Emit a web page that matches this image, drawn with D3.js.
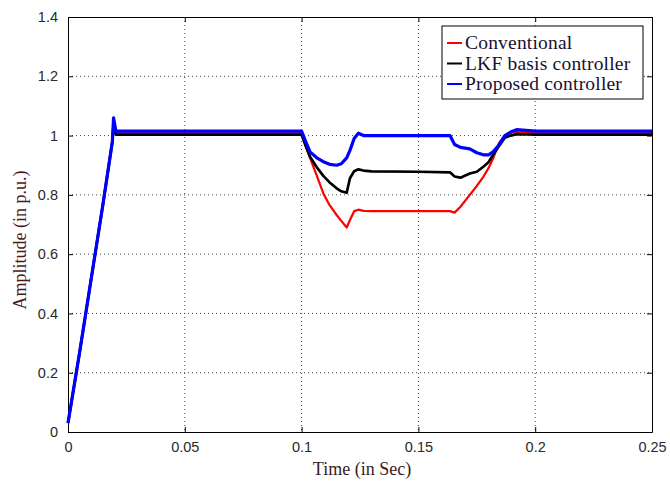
<!DOCTYPE html>
<html>
<head>
<meta charset="utf-8">
<script src="https://cdn.jsdelivr.net/npm/d3@7/dist/d3.min.js"></script>
<style>
  body { margin: 0; background: #fff; }
</style>
</head>
<body>
<div id="chart"></div>
<script>
// Time samples (s) shared by the three series
const time = [0, 0.005, 0.01, 0.015, 0.019, 0.0195, 0.0205, 0.022, 0.05, 0.1,
  0.102, 0.1036, 0.1065, 0.1093, 0.112, 0.115, 0.117, 0.1193, 0.1207, 0.1225,
  0.1243, 0.1265, 0.13, 0.15, 0.1635, 0.1655, 0.168, 0.172, 0.175, 0.1778,
  0.18, 0.182, 0.1845, 0.187, 0.1895, 0.192, 0.2, 0.25];

const conventional = [0.03, 0.27, 0.52, 0.77, 0.98, 1.05, 1.01, 1.01, 1.01, 1.01,
  0.96, 0.925, 0.865, 0.805, 0.765, 0.732, 0.712, 0.69, 0.715, 0.745,
  0.75, 0.746, 0.745, 0.745, 0.745, 0.74, 0.76, 0.80, 0.83, 0.861,
  0.89, 0.923, 0.975, 1.0, 1.01, 1.012, 1.01, 1.01];

const lkf = [0.03, 0.27, 0.52, 0.77, 0.98, 1.04, 1.003, 1.003, 1.003, 1.003,
  0.96, 0.929, 0.893, 0.864, 0.842, 0.822, 0.812, 0.807, 0.856, 0.88,
  0.886, 0.882, 0.879, 0.878, 0.876, 0.862, 0.858, 0.872, 0.878, 0.895,
  0.91, 0.935, 0.965, 0.993, 1.0, 1.005, 1.003, 1.003];

const proposed = [0.03, 0.27, 0.52, 0.77, 0.98, 1.06, 1.015, 1.015, 1.015, 1.015,
  0.975, 0.945, 0.925, 0.912, 0.903, 0.9, 0.905, 0.925, 0.95, 0.99,
  1.008, 1.0, 1.0, 1.0, 1.0, 0.97, 0.96, 0.955, 0.942, 0.935,
  0.935, 0.945, 0.968, 1.0, 1.012, 1.02, 1.015, 1.015];

const xTicks = [0, 0.05, 0.1, 0.15, 0.2, 0.25];
const yTicks = [0, 0.2, 0.4, 0.6, 0.8, 1, 1.2, 1.4];
const seriesNames = ["Conventional", "LKF basis controller", "Proposed controller"];
const seriesColors = ["#ff0000", "#000000", "#0000ff"];
const seriesWidths = [2.2, 2.7, 3.2];

const margin = {top: 17, right: 18, bottom: 51, left: 68},
      width = 670 - margin.left - margin.right,
      height = 483 - margin.top - margin.bottom;

const svg = d3.select("#chart")
    .append("svg")
    .attr("width", 670)
    .attr("height", 483)
    .append("g")
    .attr("transform", `translate(${margin.left},${margin.top})`);

const x = d3.scaleLinear().domain([0, 0.25]).range([0, width]);
const y = d3.scaleLinear().domain([0, 1.4]).range([height, 0]);

// dotted grid
svg.selectAll(".xgrid")
    .data(xTicks.slice(1, -1))
    .join("line")
    .attr("x1", d => x(d)).attr("x2", d => x(d))
    .attr("y1", 0).attr("y2", height)
    .attr("stroke", "#444")
    .attr("stroke-width", 1)
    .attr("stroke-dasharray", "1,3");
svg.selectAll(".ygrid")
    .data(yTicks.slice(1, -1))
    .join("line")
    .attr("x1", 0).attr("x2", width)
    .attr("y1", d => y(d)).attr("y2", d => y(d))
    .attr("stroke", "#444")
    .attr("stroke-width", 1)
    .attr("stroke-dasharray", "1,3");

// axes with inward ticks on all sides
const fmt = d => d3.format("")(+d.toFixed(2));
const axB = svg.append("g")
    .attr("transform", `translate(0,${height})`)
    .call(d3.axisBottom(x).tickValues(xTicks).tickSizeInner(-5).tickSizeOuter(0).tickPadding(10).tickFormat(fmt));
const axL = svg.append("g")
    .call(d3.axisLeft(y).tickValues(yTicks).tickSizeInner(-5).tickSizeOuter(0).tickPadding(10).tickFormat(fmt));
const axT = svg.append("g")
    .call(d3.axisTop(x).tickValues(xTicks).tickSizeInner(-5).tickSizeOuter(0).tickFormat(""));
const axR = svg.append("g")
    .attr("transform", `translate(${width},0)`)
    .call(d3.axisRight(y).tickValues(yTicks).tickSizeInner(-5).tickSizeOuter(0).tickFormat(""));

[axB, axL, axT, axR].forEach(a => {
    a.select(".domain").attr("stroke", "#000");
    a.selectAll(".tick line").attr("stroke", "#000");
    a.selectAll("text")
        .style("font-family", "'Liberation Sans', Arial, sans-serif")
        .style("font-size", "14.5px")
        .attr("fill", "#2a2a2a");
});

// lines
const series = [conventional, lkf, proposed];
series.forEach((vals, i) => {
    svg.append("path")
        .datum(time.map((t, j) => [t, vals[j]]))
        .attr("fill", "none")
        .attr("stroke", seriesColors[i])
        .attr("stroke-width", seriesWidths[i])
        .attr("stroke-linejoin", "round")
        .attr("d", d3.line().x(d => x(d[0])).y(d => y(d[1])));
});

// axis titles
svg.append("text")
    .attr("x", width / 2 + 2)
    .attr("y", height + 43)
    .attr("text-anchor", "middle")
    .style("font-family", "'Liberation Serif', 'Times New Roman', serif")
    .style("font-size", "18px")
    .attr("fill", "#3a1a22")
    .text("Time (in Sec)");

svg.append("text")
    .attr("transform", "rotate(-90)")
    .attr("x", -(240 - margin.top))
    .attr("y", -margin.left + 26)
    .attr("text-anchor", "middle")
    .style("font-family", "'Liberation Serif', 'Times New Roman', serif")
    .style("font-size", "18px")
    .attr("fill", "#4a1a1a")
    .text("Amplitude (in p.u.)");

// legend
const lg = svg.append("g").attr("transform", `translate(${442 - margin.left},${26 - margin.top})`);
lg.append("rect")
    .attr("width", 201).attr("height", 73)
    .attr("fill", "#fff").attr("stroke", "#000").attr("stroke-width", 1);
seriesNames.forEach((name, i) => {
    const cy = 17 + i * 20.5;
    lg.append("line")
        .attr("x1", 5).attr("x2", 20)
        .attr("y1", cy).attr("y2", cy)
        .attr("stroke", seriesColors[i]).attr("stroke-width", 2);
    lg.append("text")
        .attr("x", 23).attr("y", cy + 6)
        .style("font-family", "'Liberation Serif', 'Times New Roman', serif")
        .style("font-size", "19.5px")
        .style("letter-spacing", "0.2px")
        .attr("fill", "#1a1030")
        .text(name);
});
</script>
</body>
</html>
